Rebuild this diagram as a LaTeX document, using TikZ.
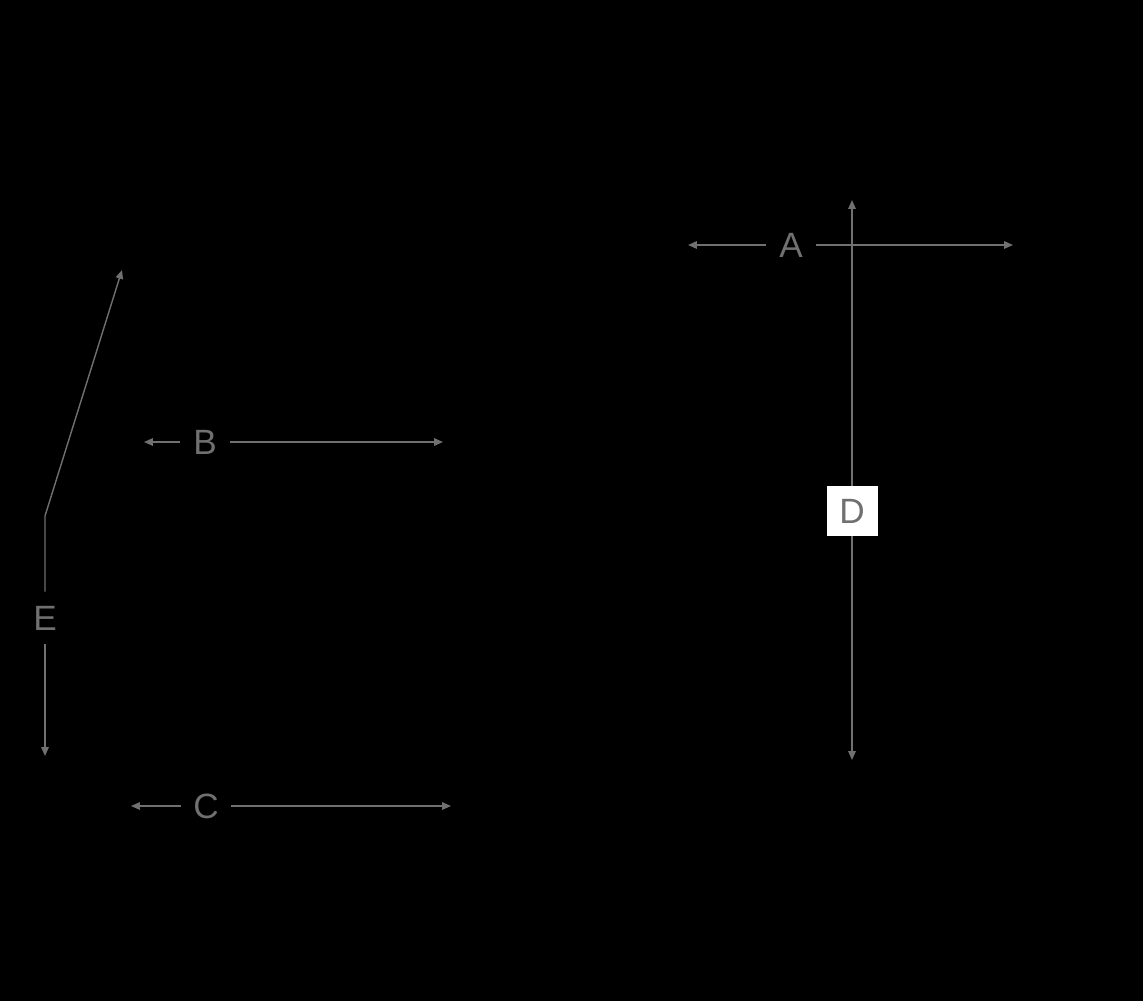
\documentclass[tikz,border=0pt]{standalone}
\usepackage{fontspec}
\setmainfont{Liberation Sans}
\usetikzlibrary{arrows.meta}
\definecolor{dimgray}{HTML}{707070}
\tikzset{
  dim/.style={draw=dimgray, line width=0.8pt, -{Triangle[length=5pt,width=4.2pt]}},
  lbl/.style={text=dimgray, font=\fontsize{20}{24}\selectfont, inner sep=0pt,
              minimum width=1cm, minimum height=1.04cm}
}
\begin{document}
\begin{tikzpicture}[x=0.02cm, y=-0.02cm]
        \fill[black] (0,0) rectangle (1143,1001);
        % A and D
        \node[lbl, fill=white, minimum width=1.02cm, minimum height=1cm] (D) at (852,511) {D};
        \coordinate (Dt) at (852,200);
        \coordinate (Db) at (852,760);
        \draw[dim] (D) -- (Dt);
        \draw[dim] (D) -- (Db);
        \node[lbl] (A) at (791,245) {A};
        \coordinate (Al) at (688,245);
        \coordinate (Ar) at (1013,245);
        \draw[dim] (A) -- (Al);
        \draw[dim] (A) -- (Ar);
        % B
        \node[lbl] (B) at (205,442) {B};
        \coordinate (Bl) at (144,442);
        \coordinate (Br) at (443,442);
        \draw[dim] (B) -- (Bl);
        \draw[dim] (B) -- (Br);
        % C
        \node[lbl] (C) at (206,806) {C};
        \coordinate (Cl) at (131,806);
        \coordinate (Cr) at (451,806);
        \draw[dim] (C) -- (Cl);
        \draw[dim] (C) -- (Cr);
        % E
        \node[lbl] (E) at (45,618) {E};
        \coordinate (Eb) at (45,756);
        \coordinate (Ek) at (45,516);
        \coordinate (Et) at (122,270);
        \draw[dim] (E) -- (Eb);
        \draw[dim] (E) -- (Ek) -- (Et);
\end{tikzpicture}
\end{document}
